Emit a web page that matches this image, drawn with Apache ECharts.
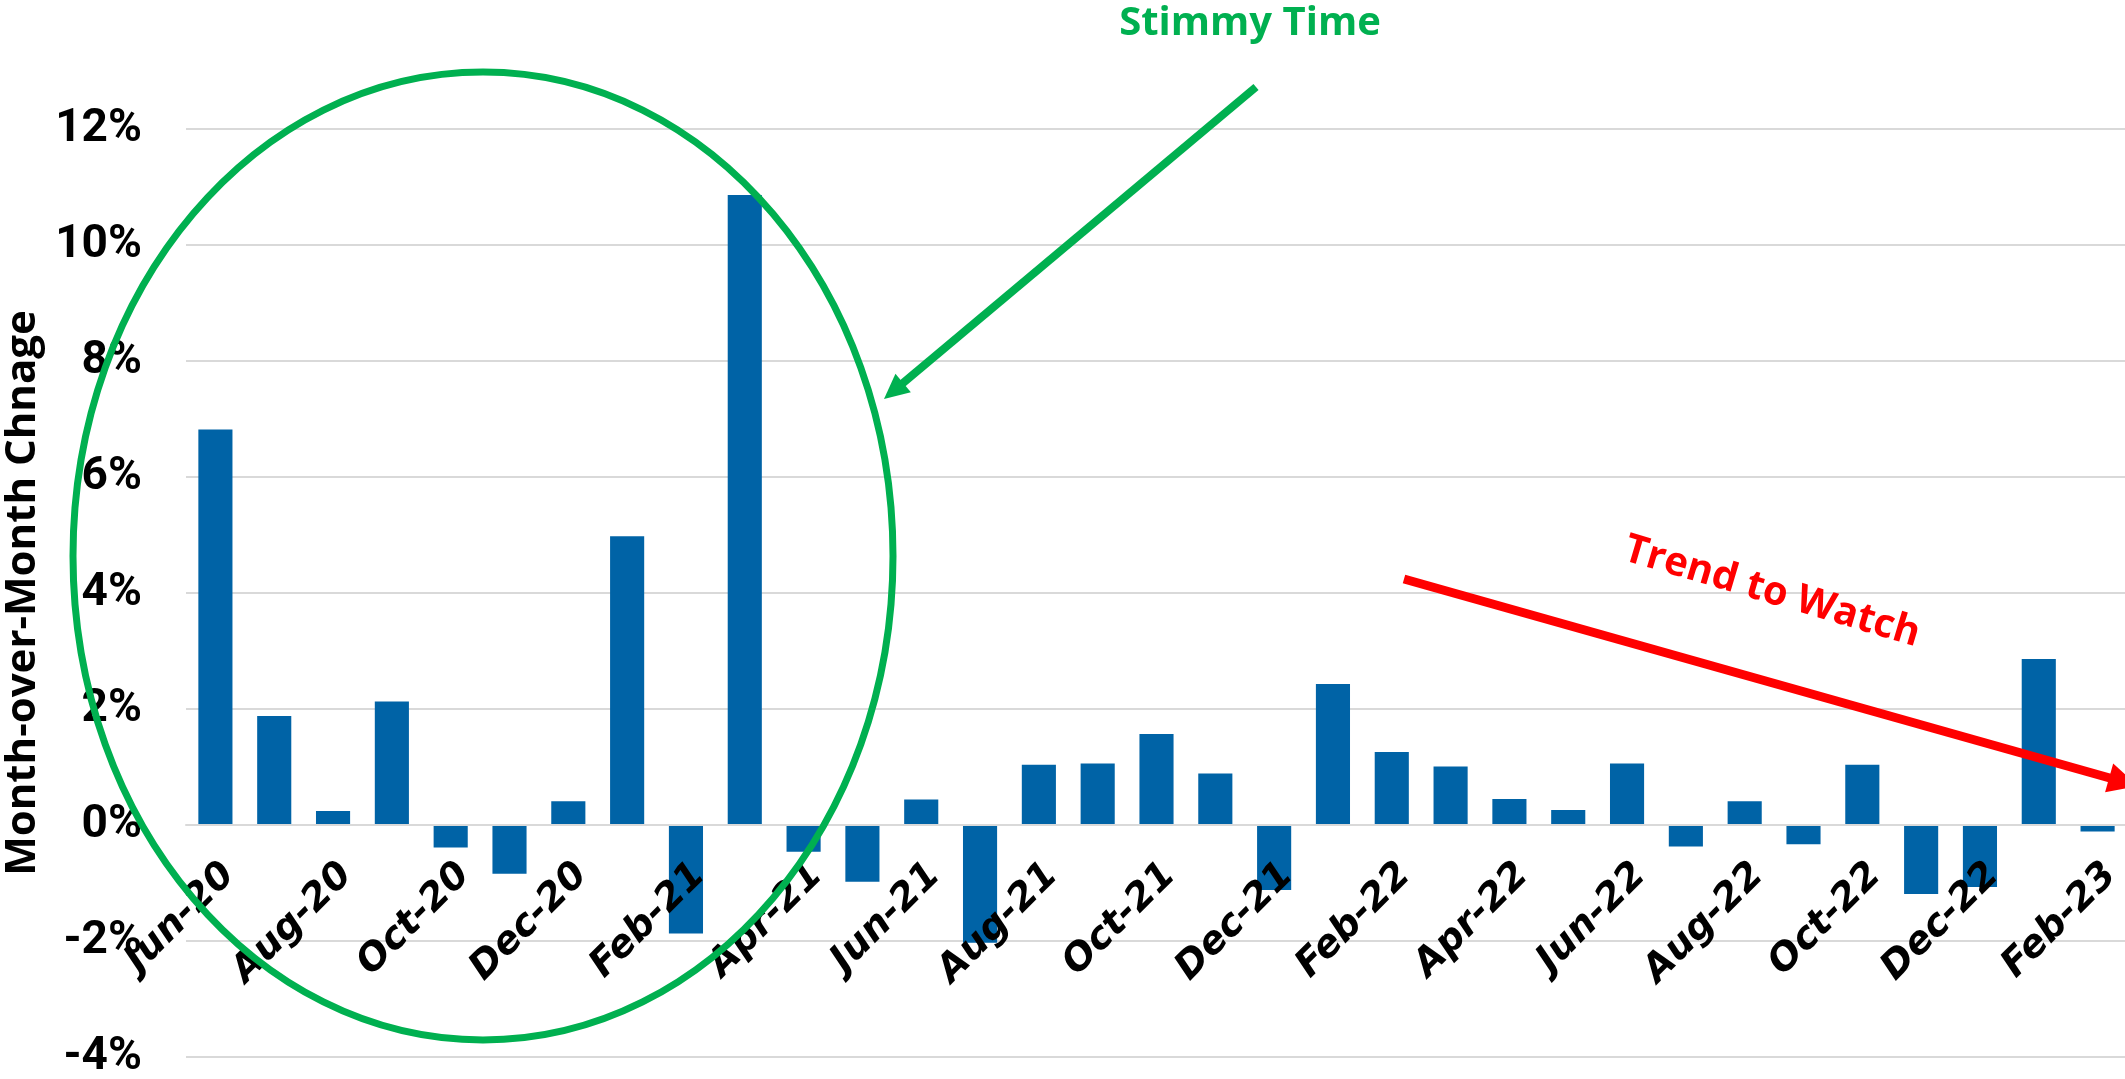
<!DOCTYPE html>
<html>
<head>
<meta charset="utf-8">
<script src="https://cdn.jsdelivr.net/npm/echarts@6/dist/echarts.min.js"></script>
<style>
  html, body { margin: 0; padding: 0; background: #ffffff; }
  #chart { width: 2125px; height: 1079px; }
</style>
</head>
<body>
<div id="chart"></div>
<script>
// Month labels, Jun-20 through Feb-23
const months = [
  'Jun-20', 'Jul-20', 'Aug-20', 'Sep-20', 'Oct-20', 'Nov-20', 'Dec-20',
  'Jan-21', 'Feb-21', 'Mar-21', 'Apr-21', 'May-21', 'Jun-21', 'Jul-21',
  'Aug-21', 'Sep-21', 'Oct-21', 'Nov-21', 'Dec-21', 'Jan-22', 'Feb-22',
  'Mar-22', 'Apr-22', 'May-22', 'Jun-22', 'Jul-22', 'Aug-22', 'Sep-22',
  'Oct-22', 'Nov-22', 'Dec-22', 'Jan-23', 'Feb-23'
];

// Month-over-month change, percent
const momChange = [
  6.82, 1.88, 0.24, 2.13, -0.39, -0.84, 0.41,
  4.98, -1.87, 10.86, -0.46, -0.98, 0.44, -2.03,
  1.04, 1.06, 1.57, 0.89, -1.12, 2.43, 1.26,
  1.01, 0.45, 0.26, 1.06, -0.37, 0.41, -0.33,
  1.04, -1.19, -1.07, 2.86, -0.11
];

// Value axis ticks
const yTicks = { min: -4, max: 12, step: 2 };

const GREEN = '#00b050';
const RED = '#ff0000';
const BAR = '#0063a6';
const GRID = '#d9d9d9';

const W = 2125, H = 1079;
const gridBox = { left: 186, right: -2, top: 129, bottom: 22 };
// distance from the plot's bottom edge up to the 0% line, so the month axis sits on zero
const plotH = H - gridBox.top - gridBox.bottom;
const zeroLift = plotH * (0 - yTicks.min) / (yTicks.max - yTicks.min);

const chart = echarts.init(document.getElementById('chart'), null, { renderer: 'canvas' });

// Arrow head polygon at (x2, y2) pointing along the segment from (x1, y1)
function arrowHead(x1, y1, x2, y2, len, half) {
  const a = Math.atan2(y2 - y1, x2 - x1);
  const bx = x2 - len * Math.cos(a), by = y2 - len * Math.sin(a);
  const nx = -Math.sin(a) * half, ny = Math.cos(a) * half;
  return [[x2, y2], [bx + nx, by + ny], [bx - nx, by - ny]];
}

// Callout geometry
const stimArrow = { x1: 1256, y1: 87, x2: 884, y2: 399 };
const trendArrow = { x1: 1404, y1: 579, x2: 2138, y2: 786 };

function shortenEnd(a, d) {
  const ang = Math.atan2(a.y2 - a.y1, a.x2 - a.x1);
  return [a.x2 - d * Math.cos(ang), a.y2 - d * Math.sin(ang)];
}

const stimEnd = shortenEnd(stimArrow, 18);
const trendEnd = shortenEnd(trendArrow, 22);

const option = {
  backgroundColor: '#ffffff',
  animation: false,
  grid: {
    left: gridBox.left, right: gridBox.right, top: gridBox.top, bottom: gridBox.bottom,
    containLabel: false,
    outerBoundsMode: 'none'
  },
  xAxis: {
    type: 'category',
    data: months,
    position: 'bottom',
    offset: -zeroLift,
    z: 5,
    axisLine: { onZero: false, lineStyle: { color: GRID, width: 2 } },
    axisTick: { show: false },
    axisLabel: {
      interval: 1,
      rotate: 45,
      margin: 31,
      verticalAlign: 'top',
      color: '#000000',
      fontFamily: 'DejaVu Sans',
      fontWeight: 'bold',
      fontStyle: 'italic',
      fontSize: 38
    }
  },
  yAxis: {
    type: 'value',
    min: yTicks.min,
    max: yTicks.max,
    interval: yTicks.step,
    name: 'Month-over-Month Chnage',
    nameLocation: 'middle',
    nameGap: 140,
    nameTextStyle: {
      color: '#000000',
      fontFamily: 'Open Sans',
      fontWeight: 'bold',
      fontSize: 42
    },
    axisLine: { show: false },
    axisTick: { show: false },
    splitLine: { lineStyle: { color: GRID, width: 2 } },
    axisLabel: {
      formatter: '{value}%',
      margin: 44,
      color: '#000000',
      fontFamily: '"Liberation Sans Narrow", Roboto',
      fontWeight: 'bold',
      fontSize: 46
    }
  },
  series: [{
    type: 'bar',
    data: momChange,
    barCategoryGap: '42%',
    itemStyle: { color: BAR },
    z: 2
  }],
  graphic: [
    {
      type: 'ellipse',
      shape: { cx: 483, cy: 556, rx: 410, ry: 484 },
      style: { fill: 'none', stroke: GREEN, lineWidth: 7 },
      z: 100
    },
    {
      type: 'line',
      shape: { x1: stimArrow.x1, y1: stimArrow.y1, x2: stimEnd[0], y2: stimEnd[1] },
      style: { stroke: GREEN, lineWidth: 8 },
      z: 100
    },
    {
      type: 'polygon',
      shape: { points: arrowHead(stimArrow.x1, stimArrow.y1, stimArrow.x2, stimArrow.y2, 25, 12) },
      style: { fill: GREEN },
      z: 100
    },
    {
      type: 'text',
      x: 1250, y: 24,
      style: {
        text: 'Stimmy Time',
        fill: GREEN,
        font: 'bold 40px "Open Sans"',
        textAlign: 'center',
        textVerticalAlign: 'middle'
      },
      z: 100
    },
    {
      type: 'line',
      shape: { x1: trendArrow.x1, y1: trendArrow.y1, x2: trendEnd[0], y2: trendEnd[1] },
      style: { stroke: RED, lineWidth: 9 },
      z: 100
    },
    {
      type: 'polygon',
      shape: { points: arrowHead(trendArrow.x1, trendArrow.y1, trendArrow.x2, trendArrow.y2, 30, 15) },
      style: { fill: RED },
      z: 100
    },
    {
      type: 'text',
      x: 1772, y: 592,
      rotation: -16.5 * Math.PI / 180,
      style: {
        text: 'Trend to Watch',
        fill: RED,
        font: 'bold 40px "Open Sans"',
        textAlign: 'center',
        textVerticalAlign: 'middle'
      },
      z: 100
    }
  ]
};

chart.setOption(option);
</script>
</body>
</html>
